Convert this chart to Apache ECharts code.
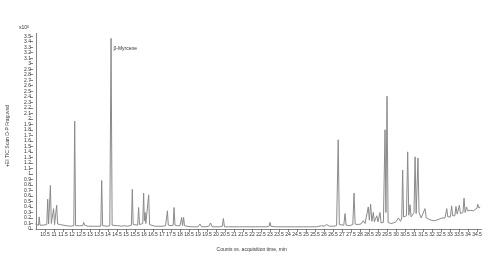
<!DOCTYPE html>
<html>
<head>
<meta charset="utf-8">
<script src="https://cdn.jsdelivr.net/npm/echarts@6/dist/echarts.min.js"></script>
<style>html,body{margin:0;padding:0;background:#fff}#c{width:496px;height:280px}</style>
</head>
<body>
<div id="c"></div>
<script>
// Retention time (min)
const retentionTimes = [
  9.97,10.05,10.14,10.18,10.22,10.3,10.4,10.5,10.6,10.65,10.7,10.76,10.8,10.85,10.93,10.98,11.03,11.1,11.15,11.2,
  11.28,11.35,11.42,11.5,11.6,11.7,11.8,11.9,12.0,12.1,12.15,12.2,12.3,12.4,12.5,12.6,12.65,12.7,12.75,12.8,
  12.9,13.0,13.2,13.4,13.6,13.65,13.7,13.8,13.95,14.1,14.17,14.23,14.3,14.45,14.52,14.6,14.75,14.9,15.0,15.1,
  15.2,15.3,15.35,15.4,15.5,15.65,15.7,15.75,15.85,15.93,15.98,16.02,16.06,16.1,16.2,16.26,16.31,16.4,16.6,16.8,
  17.0,17.2,17.3,17.35,17.5,17.62,17.67,17.72,17.85,18.0,18.09,18.14,18.2,18.25,18.4,18.6,18.8,19.0,19.11,19.2,
  19.4,19.6,19.7,19.78,20.0,20.2,20.35,20.41,20.47,20.7,21.0,21.3,21.6,21.9,22.2,22.45,22.5,22.55,22.8,22.95,
  23.0,23.05,23.3,23.6,24.0,24.4,24.8,25.2,25.6,25.87,26.0,26.15,26.3,26.5,26.7,26.79,26.85,26.95,27.1,27.17,
  27.23,27.4,27.6,27.67,27.73,27.85,27.95,28.05,28.18,28.28,28.38,28.46,28.52,28.59,28.66,28.74,28.8,28.88,28.93,29.0,
  29.05,29.11,29.17,29.3,29.39,29.44,29.5,29.56,29.7,29.85,30.0,30.13,30.25,30.32,30.37,30.42,30.5,30.58,30.65,30.71,
  30.78,30.84,30.92,31.0,31.06,31.12,31.22,31.28,31.33,31.4,31.5,31.61,31.68,31.8,31.95,32.1,32.25,32.4,32.55,32.65,
  32.72,32.82,32.88,32.95,33.02,33.09,33.15,33.22,33.27,33.33,33.4,33.46,33.52,33.58,33.66,33.72,33.78,33.84,33.92,33.98,
  34.05,34.15,34.3,34.4,34.5,34.54,34.61,34.68
];
// Counts (x10^6)
const intensities = [
  0.09,0.07,0.07,0.22,0.07,0.06,0.07,0.06,0.08,0.54,0.09,0.10,0.79,0.10,0.08,0.37,0.08,0.08,0.43,0.09,
  0.10,0.08,0.09,0.07,0.08,0.06,0.06,0.05,0.06,0.06,1.96,0.06,0.05,0.06,0.05,0.06,0.12,0.07,0.09,0.06,
  0.05,0.05,0.05,0.05,0.05,0.88,0.06,0.05,0.05,0.06,3.46,0.07,0.05,0.06,0.08,0.06,0.05,0.06,0.05,0.05,
  0.06,0.07,0.72,0.08,0.06,0.07,0.39,0.08,0.08,0.10,0.65,0.15,0.30,0.10,0.10,0.62,0.08,0.06,0.05,0.05,
  0.05,0.06,0.33,0.07,0.06,0.07,0.39,0.07,0.06,0.06,0.21,0.06,0.21,0.06,0.05,0.04,0.04,0.04,0.09,0.04,
  0.04,0.05,0.11,0.04,0.04,0.04,0.05,0.19,0.04,0.04,0.04,0.04,0.04,0.04,0.04,0.04,0.06,0.04,0.04,0.05,
  0.12,0.05,0.04,0.04,0.04,0.04,0.04,0.04,0.04,0.06,0.05,0.08,0.05,0.05,0.06,1.62,0.08,0.06,0.07,0.28,
  0.07,0.06,0.08,0.65,0.09,0.08,0.10,0.09,0.15,0.10,0.12,0.40,0.16,0.45,0.14,0.30,0.13,0.12,0.24,0.13,
  0.14,0.30,0.11,0.12,1.80,0.30,2.41,0.12,0.10,0.11,0.13,0.20,0.14,0.20,1.07,0.22,0.20,0.24,1.40,0.25,
  0.44,0.22,0.25,0.30,1.31,0.28,1.29,0.30,0.30,0.20,0.22,0.37,0.20,0.18,0.16,0.15,0.16,0.18,0.20,0.22,
  0.20,0.37,0.22,0.25,0.22,0.42,0.24,0.26,0.24,0.41,0.27,0.25,0.43,0.28,0.30,0.30,0.56,0.30,0.40,0.33,
  0.32,0.34,0.33,0.36,0.38,0.45,0.38,0.40
];
const xTickInterval = 0.5;
const yTickInterval = 0.1;
const annotationText = 'β-Myrcene';
const annotationCoord = [14.3, 3.28];

const seriesData = retentionTimes.map((t, i) => [t, intensities[i]]);
const font = 'Liberation Sans, Arial, sans-serif';
const textColor = '#333';

const chart = echarts.init(document.getElementById('c'), null, {renderer: 'canvas'});
chart.setOption({
  animation: false,
  backgroundColor: '#fff',
  grid: {left: 36, right: 14.5, top: 33.4, bottom: 51, containLabel: false, outerBoundsMode: 'none'},
  xAxis: {
    type: 'value', min: 10, max: 34.75, interval: xTickInterval,
    name: 'Counts vs. acquisition time, min', nameLocation: 'middle', nameGap: 18,
    nameTextStyle: {fontSize: 5, color: textColor, fontFamily: font, padding: [0, 14, 0, 0]},
    axisLine: {show: true, lineStyle: {color: '#666', width: 0.8}},
    axisTick: {show: true, length: 3, lineStyle: {color: '#666', width: 0.8}},
    axisLabel: {fontSize: 5, color: textColor, fontFamily: font, margin: 3, showMinLabel: false, showMaxLabel: false},
    splitLine: {show: false}
  },
  yAxis: [{
    type: 'value', min: 0, max: 3.55, interval: yTickInterval, offset: 3, position: 'left',
    axisLine: {show: false},
    axisTick: {show: true, length: 3, lineStyle: {color: '#666', width: 0.8}},
    axisLabel: {fontSize: 5, color: textColor, fontFamily: font, margin: 2, showMaxLabel: false},
    splitLine: {show: false}
  }, {
    type: 'value', min: 0, max: 3.55, offset: 0, position: 'left',
    name: '+EI TIC Scan D-P Frag.wsd', nameLocation: 'middle', nameGap: 26, nameRotate: 90,
    nameTextStyle: {fontSize: 5, color: textColor, fontFamily: font, padding: [0, 10, 0, 0]},
    axisLine: {show: true, lineStyle: {color: '#666', width: 0.8}},
    axisTick: {show: false}, axisLabel: {show: false}, splitLine: {show: false}
  }],
  graphic: [{
    type: 'text', left: 19, top: 25,
    style: {
      text: 'x10{s|6}', fill: textColor, font: '5px ' + font,
      rich: {s: {fontSize: 3.5, verticalAlign: 'top', fill: textColor, fontFamily: font}}
    }
  }],
  series: [{
    type: 'line', yAxisIndex: 0, data: seriesData, showSymbol: false, symbol: 'none',
    lineStyle: {color: '#8a8a8a', width: 1}, silent: true,
    markPoint: {
      symbol: 'circle', symbolSize: 0, silent: true,
      data: [{coord: annotationCoord, label: {show: true, formatter: annotationText, position: 'right', distance: 0,
        fontSize: 5, color: textColor, fontFamily: font}}]
    }
  }]
});
</script>
</body>
</html>
